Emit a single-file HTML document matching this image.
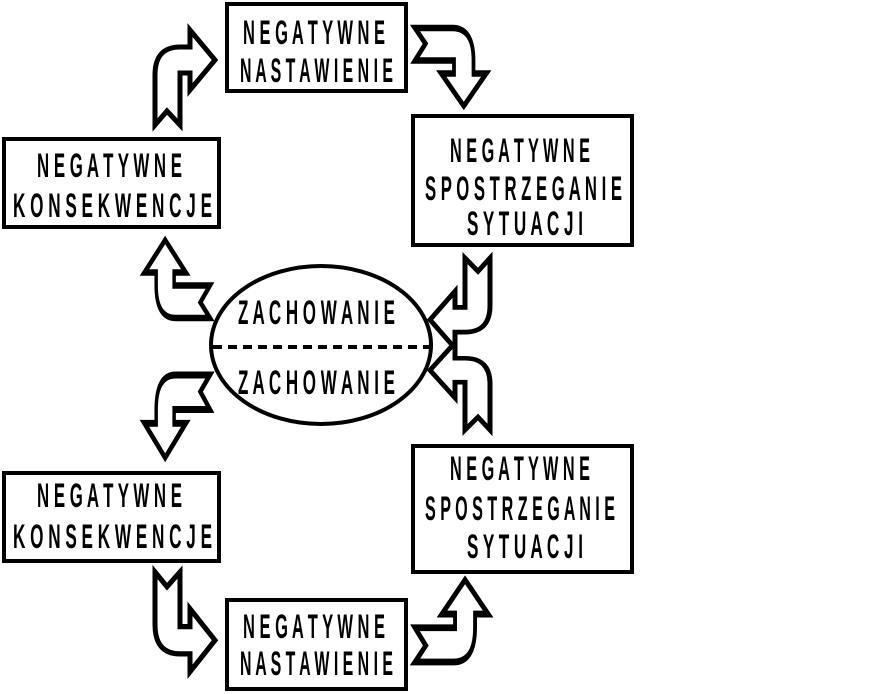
<!DOCTYPE html>
<html><head><meta charset="utf-8"><style>
html,body{margin:0;padding:0;background:#fff;width:884px;height:694px;overflow:hidden}
svg text{font-family:"Liberation Sans Narrow","Liberation Sans",sans-serif;font-weight:bold;font-size:34px;fill:#000}
</style></head><body>
<svg width="884" height="694" viewBox="0 0 884 694" xmlns="http://www.w3.org/2000/svg">
<defs>
<path id="ar" d="M0,100 L0,50 Q0,22 25,22 L35,22 L35,5 L60,35 L35,65 L35,48 L25,48 L25,100 L12,86 Z"/>
</defs>
<g fill="#fff" stroke="#000" stroke-width="4" stroke-linejoin="miter">
<rect x="227" y="4" width="179" height="87"/>
<rect x="413" y="116" width="219" height="129"/>
<rect x="4" y="139" width="215" height="88"/>
<rect x="413" y="446" width="219" height="126"/>
<rect x="4" y="473" width="215" height="88"/>
<rect x="227" y="600" width="179" height="89"/>
<ellipse cx="321" cy="345" rx="110" ry="79"/>
</g>
<line x1="213" y1="347" x2="429" y2="347" stroke="#000" stroke-width="4" stroke-dasharray="9,6"/>
<g fill="#fff" stroke="#000" stroke-width="5" stroke-linejoin="miter">
<use href="#ar" transform="translate(155,25)"/>
<use href="#ar" transform="matrix(0,1.3,-0.75,0,490,28)"/>
<use href="#ar" transform="matrix(-1,0,0,-0.95,490,353)"/>
<use href="#ar" transform="matrix(-1,0,0,0.92,490,338)"/>
<use href="#ar" transform="matrix(0,-1.3,0.69,0,141,318)"/>
<use href="#ar" transform="matrix(0,1.38,0.69,0,141,375)"/>
<use href="#ar" transform="matrix(1,0,0,-1.05,155,677)"/>
<use href="#ar" transform="matrix(0,-1.37,-0.77,0,492,662)"/>
</g>
<g>
<text x="243" y="44" textLength="142" lengthAdjust="spacingAndGlyphs">N E G A T Y W N E</text>
<text x="240" y="82" textLength="153" lengthAdjust="spacingAndGlyphs">N A S T A W I E N I E</text>
<text x="450" y="162" textLength="140" lengthAdjust="spacingAndGlyphs">N E G A T Y W N E</text>
<text x="425" y="200" textLength="197" lengthAdjust="spacingAndGlyphs">S P O S T R Z E G A N I E</text>
<text x="467" y="235" textLength="116" lengthAdjust="spacingAndGlyphs">S Y T U A C J I</text>
<text x="37" y="177" textLength="145" lengthAdjust="spacingAndGlyphs">N E G A T Y W N E</text>
<text x="13" y="217" textLength="199" lengthAdjust="spacingAndGlyphs">K O N S E K W E N C J E</text>
<text x="238" y="324" textLength="157" lengthAdjust="spacingAndGlyphs">Z A C H O W A N I E</text>
<text x="238" y="394" textLength="157" lengthAdjust="spacingAndGlyphs">Z A C H O W A N I E</text>
<text x="450" y="480" textLength="140" lengthAdjust="spacingAndGlyphs">N E G A T Y W N E</text>
<text x="425" y="520" textLength="190" lengthAdjust="spacingAndGlyphs">S P O S T R Z E G A N I E</text>
<text x="467" y="558" textLength="116" lengthAdjust="spacingAndGlyphs">S Y T U A C J I</text>
<text x="37" y="507" textLength="145" lengthAdjust="spacingAndGlyphs">N E G A T Y W N E</text>
<text x="13" y="548" textLength="199" lengthAdjust="spacingAndGlyphs">K O N S E K W E N C J E</text>
<text x="243" y="638" textLength="142" lengthAdjust="spacingAndGlyphs">N E G A T Y W N E</text>
<text x="240" y="675" textLength="153" lengthAdjust="spacingAndGlyphs">N A S T A W I E N I E</text>
</g>
</svg>
</body></html>
